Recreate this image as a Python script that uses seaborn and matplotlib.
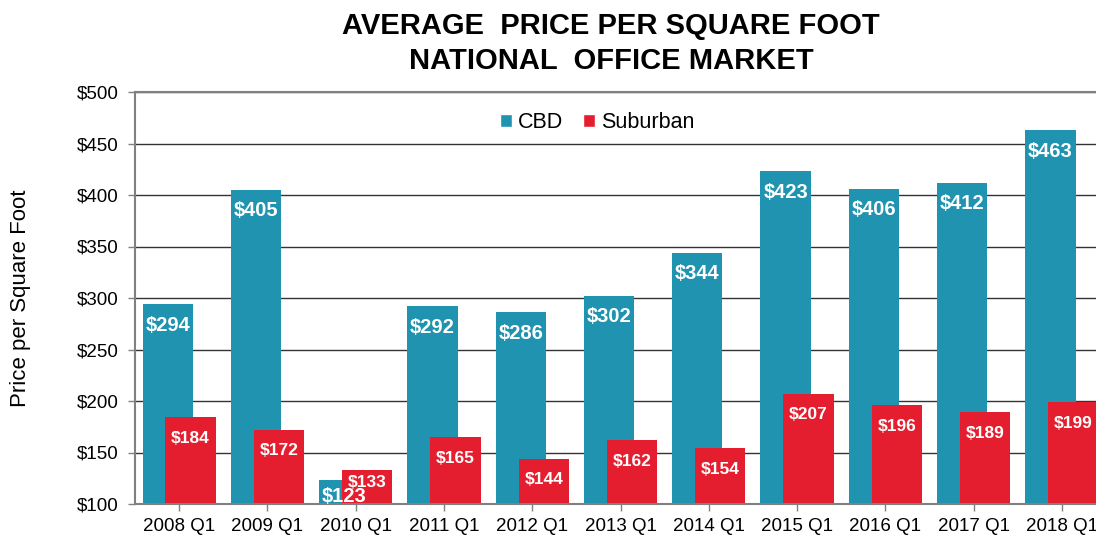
import matplotlib
matplotlib.use("Agg")
import matplotlib.pyplot as plt
import seaborn as sns
import pandas as pd

# values
quarters = ["2008 Q1", "2009 Q1", "2010 Q1", "2011 Q1", "2012 Q1", "2013 Q1",
            "2014 Q1", "2015 Q1", "2016 Q1", "2017 Q1", "2018 Q1"]
cbd = [294, 405, 123, 292, 286, 302, 344, 423, 406, 412, 463]
suburban = [184, 172, 133, 165, 144, 162, 154, 207, 196, 189, 199]
series_names = ["CBD", "Suburban"]
y_ticks = [100, 150, 200, 250, 300, 350, 400, 450, 500]

df = pd.DataFrame({
    "quarter": quarters * 2,
    "price": cbd + suburban,
    "market": [series_names[0]] * len(cbd) + [series_names[1]] * len(suburban),
})

sns.set_style("white")
plt.rcParams["font.family"] = ["Liberation Sans", "DejaVu Sans"]
plt.rcParams["text.color"] = "black"
plt.rcParams["axes.labelcolor"] = "black"

fig = plt.figure(figsize=(10.96, 5.35), dpi=100)
ax = fig.add_axes([135 / 1096, 31 / 535, 971 / 1096, 412 / 535])

colors = {"CBD": "#1f93b0", "Suburban": "#e41e2e"}
sns.barplot(data=df, x="quarter", y="price", hue="market", palette=colors,
            width=0.52, dodge=True, ax=ax, saturation=1, legend=True)

# the original draws wide overlapping bars, so widen each dodged bar
bar_w = 0.57
for p in ax.patches:
    c = p.get_x() + p.get_width() / 2
    p.set_x(c - bar_w / 2)
    p.set_width(bar_w)
    p.set_linewidth(0)

ax.set_ylim(100, 500)
ax.set_xlim(-0.5, len(quarters) - 0.5)
ax.set_yticks(y_ticks)
ax.set_yticklabels(["${}".format(t) for t in y_ticks])
ax.set_axisbelow(True)
ax.yaxis.grid(True, color="#333333", linewidth=1)
ax.xaxis.grid(False)

for side in ["top", "left", "bottom"]:
    ax.spines[side].set_visible(True)
    ax.spines[side].set_color("#808080")
    ax.spines[side].set_linewidth(1.5)
ax.spines["right"].set_visible(False)

ax.tick_params(axis="both", which="major", direction="out", length=5,
               color="#808080", width=1, labelsize=13.5, labelcolor="black",
               bottom=True, left=True)
ax.tick_params(axis="y", pad=7)
ax.tick_params(axis="x", pad=5)
ax.set_xlabel("")
ax.set_ylabel("Price per Square Foot", fontsize=16, labelpad=33)

# value labels inside the bars
px_per_unit = 412 / 400
for i, (vc, vs) in enumerate(zip(cbd, suburban)):
    for val, off, size in [(vc, -0.13, 14.5), (vs, 0.13, 12.5)]:
        drop = min(21, (val - 100) * px_per_unit - 7)
        if val == vs and i == 2:
            drop = 12
        ax.annotate("${}".format(val), xy=(i + off, val), xytext=(0, -drop),
                    textcoords="offset pixels", ha="center", va="center",
                    color="white", fontweight="bold", fontsize=size)

sns.move_legend(ax, loc="center", bbox_to_anchor=(0.476, 0.925), ncol=2,
                frameon=False, title=None, fontsize=15.5, handlelength=0.55,
                handleheight=0.55, handletextpad=0.3, columnspacing=0.9)

fig.text(611 / 1096, 1 - 26 / 535, "AVERAGE  PRICE PER SQUARE FOOT",
         ha="center", va="center", fontsize=21, fontweight="bold")
fig.text(611 / 1096, 1 - 61 / 535, "NATIONAL  OFFICE MARKET",
         ha="center", va="center", fontsize=21, fontweight="bold")

fig.savefig("out.png", dpi=100)
